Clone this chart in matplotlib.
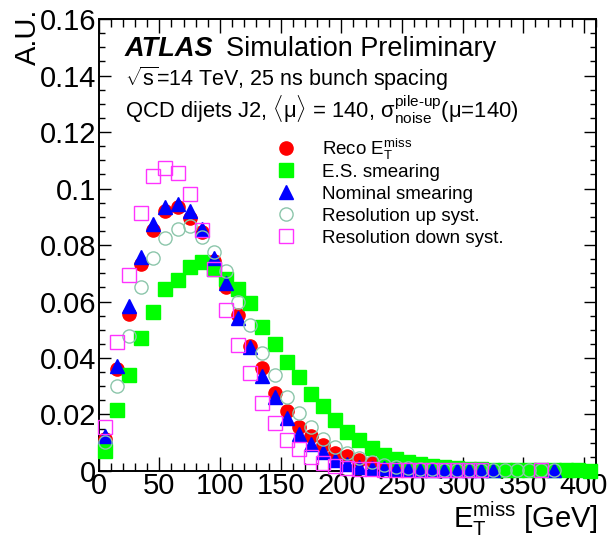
import numpy as np
import matplotlib
matplotlib.use('Agg')
import matplotlib.pyplot as plt
from matplotlib.ticker import MultipleLocator, FixedLocator, FixedFormatter

plt.rcParams['font.family'] = ['Liberation Sans', 'DejaVu Sans']
plt.rcParams['mathtext.fontset'] = 'custom'
plt.rcParams['mathtext.rm'] = 'Liberation Sans'
plt.rcParams['mathtext.it'] = 'Liberation Sans:italic'
plt.rcParams['mathtext.bf'] = 'Liberation Sans:bold'
plt.rcParams['mathtext.sf'] = 'Liberation Sans'

# MET bin centres [GeV], 10 GeV bins
met_bins = [5, 15, 25, 35, 45, 55, 65, 75, 85, 95,
            105, 115, 125, 135, 145, 155, 165, 175, 185, 195,
            205, 215, 225, 235, 245, 255, 265, 275, 285, 295,
            305, 315, 325, 335, 345, 355, 365, 375, 385, 395, 405]
nan = np.nan

reco = [0.0115, 0.0360, 0.0556, 0.0732, 0.0853, 0.0922, 0.0933, 0.0894, 0.0847, 0.0745,
        0.0652, 0.0552, 0.0442, 0.0363, 0.0275, 0.0214, 0.0157, 0.0125, 0.0091, 0.0064,
        0.0052, 0.0039, 0.0027, 0.0021, 0.0013, nan, nan, nan, nan, nan,
        nan, nan, nan, nan, nan, nan, nan, nan, nan, nan, nan]

es_smear = [0.0070, 0.0216, 0.0340, 0.0470, 0.0562, 0.0643, 0.0676, 0.0721, 0.0741, 0.0714,
            0.0678, 0.0644, 0.0596, 0.0509, 0.0451, 0.0385, 0.0334, 0.0274, 0.0230, 0.0182,
            0.0138, 0.0110, 0.0080, 0.0057, 0.0042, 0.0033, 0.0025, 0.0019, 0.0013, 0.0010,
            0.0007, 0.0006, 0.0005, 0.0004, 0.0004, 0.0003, 0.0003, 0.0002, 0.0002, 0.0002, 0.0001]

nominal = [0.0124, 0.0372, 0.0585, 0.0756, 0.0874, 0.0933, 0.0945, 0.0922, 0.0857, 0.0755,
           0.0664, 0.0543, 0.0438, 0.0336, 0.0263, 0.0189, 0.0130, 0.0096, 0.0068, 0.0039,
           0.0025, 0.0015, 0.0011, 0.0009, 0.0007, 0.0006, 0.0005, 0.0005, 0.0004, 0.0004,
           0.0003, 0.0003, 0.0002, nan, nan, nan, nan, 0.0002, nan, nan, nan]

res_up = [0.0104, 0.0302, 0.0479, 0.0650, 0.0755, 0.0824, 0.0857, 0.0867, 0.0829, 0.0776,
          0.0709, 0.0599, 0.0517, 0.0417, 0.0340, 0.0261, 0.0206, 0.0155, 0.0113, 0.0084,
          0.0063, 0.0045, 0.0032, 0.0022, 0.0015, 0.0011, 0.0008, 0.0006, 0.0005, 0.0005,
          0.0004, 0.0004, 0.0003, 0.0003, 0.0003, 0.0002, 0.0002, 0.0002, nan, nan, nan]

res_down = [0.0157, 0.0455, 0.0694, 0.0912, 0.1045, 0.1074, 0.1054, 0.0980, 0.0853, 0.0714,
            0.0570, 0.0446, 0.0346, 0.0240, 0.0171, 0.0110, 0.0077, 0.0049, 0.0030, 0.0018,
            0.0012, 0.0008, 0.0006, 0.0005, 0.0005, 0.0004, 0.0004, 0.0003, 0.0003, 0.0003,
            0.0002, 0.0002, nan, nan, nan, nan, 0.0002, nan, nan, nan, nan]

x_ticks = [0, 50, 100, 150, 200, 250, 300, 350, 400]
x_labels = ['0', '50', '100', '150', '200', '250', '300', '350', '400']
y_ticks = [0, 0.02, 0.04, 0.06, 0.08, 0.1, 0.12, 0.14, 0.16]
y_labels = ['0', '0.02', '0.04', '0.06', '0.08', '0.1', '0.12', '0.14', '0.16']

ms = 9.5
series = [
    (reco, r'Reco $\mathrm{E}_{\mathrm{T}}^{\mathrm{miss}}$',
     dict(marker='o', color='#ff0000', mec='#ff0000')),
    (es_smear, 'E.S. smearing',
     dict(marker='s', color='#00ff00', mec='#00ff00')),
    (nominal, 'Nominal smearing',
     dict(marker='^', color='#0000ff', mec='#0000ff')),
    (res_up, 'Resolution up syst.',
     dict(marker='o', mfc='none', mec='#8cc6ab', mew=1.0)),
    (res_down, 'Resolution down syst.',
     dict(marker='s', mfc='none', mec='#ff33ff', mew=1.0)),
]

fig = plt.figure(figsize=(6.11, 5.43), dpi=100)
ax = fig.add_axes([0.1615, 0.1326, 0.814, 0.8324])

# legend block: marker column and text column (axes fraction)
leg_x_marker, leg_x_text = 0.3766, 0.449
leg_y0, leg_dy = 0.7146, 0.0489

for i, (vals, label, style) in enumerate(series):
    ax.plot(met_bins, vals, ls='none', ms=ms, clip_on=False, zorder=3, **style)
    yrow = leg_y0 - i * leg_dy
    ax.plot([leg_x_marker], [yrow], ls='none', ms=ms, transform=ax.transAxes,
            clip_on=False, zorder=3, **style)
    ax.text(leg_x_text, yrow - 0.0145, label, transform=ax.transAxes,
            fontsize=13.5, va='baseline', ha='left')

ax.set_xlim(0, 410)
ax.set_ylim(0, 0.16)
ax.xaxis.set_major_locator(FixedLocator(x_ticks))
ax.xaxis.set_major_formatter(FixedFormatter(x_labels))
ax.xaxis.set_minor_locator(MultipleLocator(10))
ax.yaxis.set_major_locator(FixedLocator(y_ticks))
ax.yaxis.set_major_formatter(FixedFormatter(y_labels))
ax.yaxis.set_minor_locator(MultipleLocator(0.005))

ax.tick_params(which='both', direction='in', top=True, right=True, labelsize=21, width=1.0)
ax.tick_params(axis='x', which='major', length=10, pad=1)
ax.tick_params(axis='x', which='minor', length=5.5)
ax.tick_params(axis='y', which='major', length=8.5, pad=2)
ax.tick_params(axis='y', which='minor', length=4.5)
for sp in ax.spines.values():
    sp.set_linewidth(1.4)

ax.set_xlabel(r'$\mathrm{E}_{\mathrm{T}}^{\mathrm{miss}}$ [GeV]', fontsize=21, loc='right')
ax.xaxis.set_label_coords(1.004, -0.062)
ax.set_ylabel('A.U.', fontsize=21, loc='top')
ax.yaxis.set_label_coords(-0.114, 1.024)

ax.text(0.053, 0.918, 'ATLAS', transform=ax.transAxes, fontsize=19.5,
        fontweight='bold', fontstyle='italic')
ax.text(0.256, 0.918, 'Simulation Preliminary', transform=ax.transAxes, fontsize=19.5)
ax.text(0.053, 0.852, r'$\sqrt{\mathrm{s}}$=14 TeV, 25 ns bunch spacing',
        transform=ax.transAxes, fontsize=15.5)
ax.text(0.053, 0.781,
        r'QCD dijets J2, $\langle\mathrm{\mu}\rangle$ = 140, '
        r'$\mathrm{\sigma}_{\mathrm{noise}}^{\mathrm{pile\text{-}up}}$(μ=140)',
        transform=ax.transAxes, fontsize=15.8)

fig.savefig('out.png', dpi=100)
